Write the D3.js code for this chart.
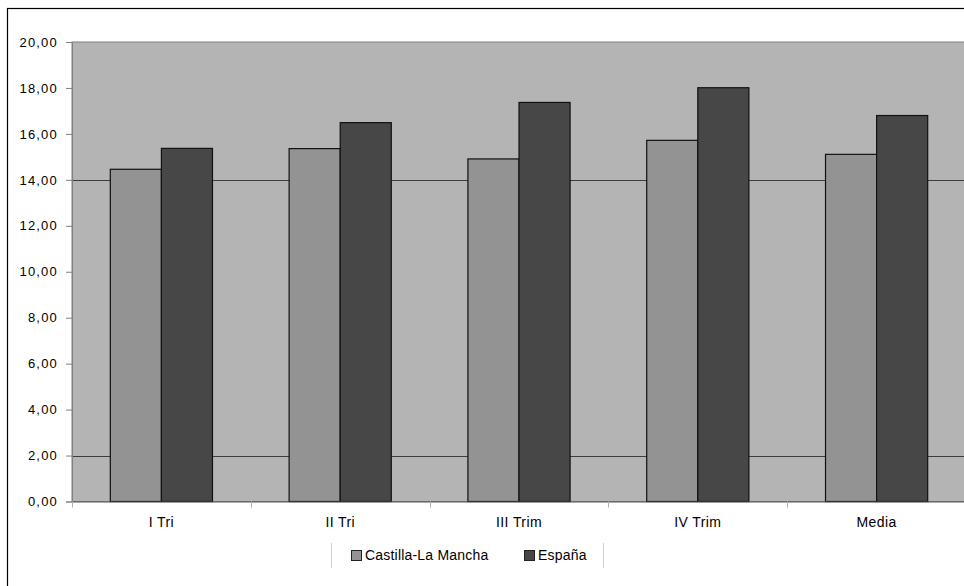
<!DOCTYPE html>
<html>
<head>
<meta charset="utf-8">
<script src="https://cdn.jsdelivr.net/npm/d3@7"></script>
<style>
  html, body { margin: 0; padding: 0; background: #ffffff; }
  svg { display: block; }
  text { font-family: "Liberation Sans", Arial, sans-serif; fill: #000; }
</style>
</head>
<body>
<svg id="chart" width="964" height="586"></svg>
<script>
const categories = ["I Tri", "II Tri", "III Trim", "IV Trim", "Media"];
const seriesNames = ["Castilla-La Mancha", "España"];
const castillaLaMancha = [14.46, 15.36, 14.91, 15.72, 15.11];
const espana = [15.37, 16.49, 17.37, 18.01, 16.80];
const yTicks = [0, 2, 4, 6, 8, 10, 12, 14, 16, 18, 20];
const gridValues = [2, 14];
const seriesColors = ["#939393", "#474747"];

const svg = d3.select("#chart");
const W = 964, H = 586;
const plot = { left: 72, top: 42, bottom: 501.5, right: 72 + 5 * 178.8 };

// outer chart border (extends past the visible area on the right and bottom)
svg.append("rect")
  .attr("x", 7.5).attr("y", 8.5)
  .attr("width", 1000).attr("height", 700)
  .attr("fill", "#ffffff").attr("stroke", "#000").attr("stroke-width", 1.2);

const y = d3.scaleLinear().domain([0, 20]).range([plot.bottom, plot.top]);
const x = d3.scaleBand().domain(categories).range([plot.left, plot.right]).paddingInner(0).paddingOuter(0);
const barW = x.bandwidth() / 3.5;
const xs = d3.scaleBand().domain(seriesNames).range([0.75 * barW, 2.75 * barW]);

// plot area
svg.append("rect")
  .attr("x", plot.left).attr("y", plot.top)
  .attr("width", plot.right - plot.left).attr("height", plot.bottom - plot.top)
  .attr("fill", "#b4b4b4").attr("stroke", "#808080").attr("stroke-width", 1);

// gridlines
svg.append("g").selectAll("line").data(gridValues).join("line")
  .attr("x1", plot.left).attr("x2", plot.right)
  .attr("y1", d => Math.round(y(d)) + 0.5).attr("y2", d => Math.round(y(d)) + 0.5)
  .attr("stroke", "#3c3c3c").attr("stroke-width", 1);

// bars
const data = categories.map((c, i) => ({ c, vals: [castillaLaMancha[i], espana[i]] }));
const groups = svg.append("g").selectAll("g").data(data).join("g")
  .attr("transform", d => `translate(${x(d.c)},0)`);
groups.selectAll("rect").data(d => d.vals.map((v, j) => ({ v, s: seriesNames[j], j }))).join("rect")
  .attr("x", d => xs(d.s))
  .attr("y", d => y(d.v))
  .attr("width", xs.bandwidth())
  .attr("height", d => y(0) - y(d.v))
  .attr("fill", d => seriesColors[d.j])
  .attr("stroke", "#111").attr("stroke-width", 1.2);

// y axis
const yAxis = d3.axisLeft(y).tickValues(yTicks).tickSize(6).tickPadding(8)
  .tickFormat(d => d3.format(".2f")(d).replace(".", ","));
const gy = svg.append("g").attr("transform", `translate(${plot.left},0)`).call(yAxis);
gy.select(".domain").attr("stroke", "#808080");
gy.selectAll(".tick line").attr("stroke", "#808080");
gy.selectAll("text").attr("font-size", 13).style("letter-spacing", "1.2px")
  .attr("font-family", "Liberation Sans, Arial, sans-serif").attr("fill", "#000");

// x axis
const xAxis = d3.axisBottom(x).tickSize(0).tickPadding(16);
const gx = svg.append("g").attr("transform", `translate(0,${plot.bottom})`).call(xAxis);
gx.select(".domain").attr("stroke", "#555").attr("stroke-width", 1.2);
gx.selectAll("text").attr("font-size", 14).style("letter-spacing", "0.4px")
  .attr("font-family", "Liberation Sans, Arial, sans-serif").attr("fill", "#000");
// category boundary ticks
svg.append("g").selectAll("line").data(categories).join("line")
  .attr("x1", d => Math.round(x(d)) + 0.5).attr("x2", d => Math.round(x(d)) + 0.5)
  .attr("y1", plot.bottom).attr("y2", plot.bottom + 6)
  .attr("stroke", "#b0b0b0");

// legend
const lg = svg.append("g");
lg.append("line").attr("x1", 331.5).attr("x2", 331.5).attr("y1", 543).attr("y2", 568).attr("stroke", "#d0d0d0");
lg.append("line").attr("x1", 603.5).attr("x2", 603.5).attr("y1", 543).attr("y2", 568).attr("stroke", "#d0d0d0");
const legendX = [351, 524];
const items = lg.selectAll("g.item").data(seriesNames).join("g").attr("class", "item")
  .attr("transform", (d, i) => `translate(${legendX[i]},0)`);
items.append("rect").attr("x", 0.5).attr("y", 550.5).attr("width", 10).attr("height", 10)
  .attr("fill", (d, i) => seriesColors[i]).attr("stroke", "#222").attr("stroke-width", 1);
items.append("text").attr("x", 14).attr("y", 560).text(d => d)
  .attr("font-size", 14).style("letter-spacing", "0.2px");
</script>
</body>
</html>
